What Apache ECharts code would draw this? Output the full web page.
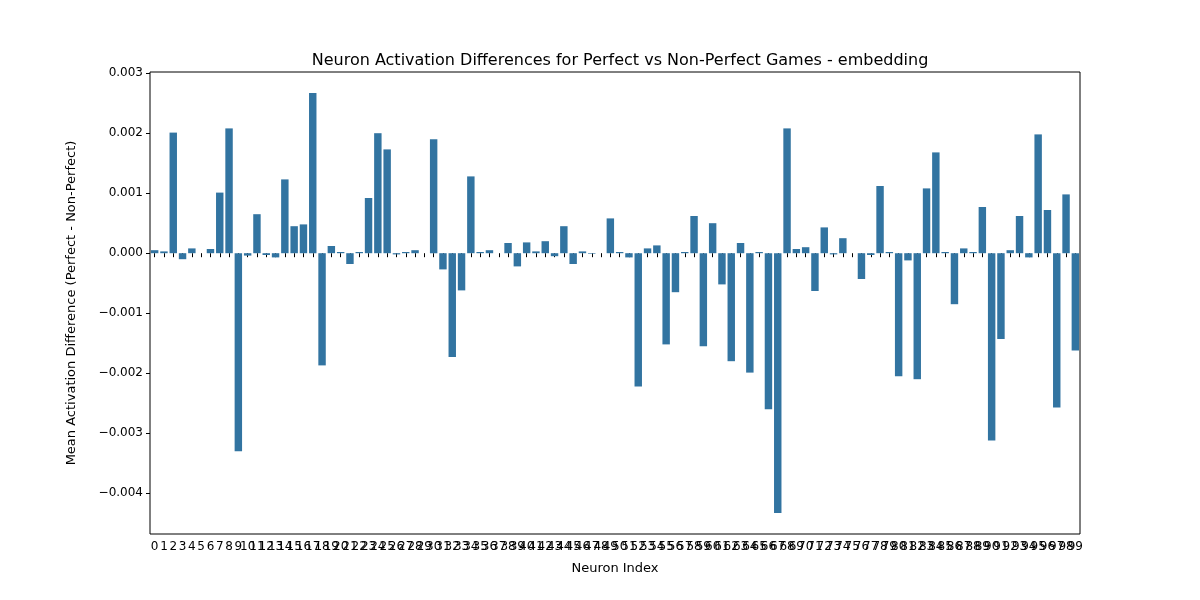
<!DOCTYPE html>
<html>
<head>
<meta charset="utf-8">
<script src="https://cdn.jsdelivr.net/npm/echarts@6/dist/echarts.min.js"></script>
<style>html,body{margin:0;padding:0;background:#fff}#chart{width:1200px;height:600px}</style>
</head>
<body>
<div id="chart"></div>
<script>
// neuron indices 0..99
const neurons = [];
for (let i = 0; i < 100; i++) neurons.push(String(i));

// mean activation difference (perfect - non-perfect)
const diffs = [
  0.00005, 0.00003, 0.00201, -0.0001, 0.00008, 0.0, 0.00007, 0.00101, 0.00208, -0.0033,
  -0.00004, 0.00065, -0.00003, -0.00007, 0.00123, 0.00045, 0.00048, 0.00267, -0.00187, 0.00012,
  0.00002, -0.00018, 0.00002, 0.00092, 0.002, 0.00173, -0.00002, 0.00002, 0.00005, 0.0,
  0.0019, -0.00027, -0.00173, -0.00062, 0.00128, 0.00002, 0.00005, 0.0, 0.00017, -0.00022,
  0.00018, 0.00003, 0.0002, -0.00005, 0.00045, -0.00018, 0.00003, -0.00001, 0.0, 0.00058,
  0.00002, -0.00007, -0.00222, 0.00008, 0.00013, -0.00152, -0.00065, 0.00002, 0.00062, -0.00155,
  0.0005, -0.00052, -0.0018, 0.00017, -0.00199, 0.00002, -0.0026, -0.00433, 0.00208, 0.00007,
  0.0001, -0.00063, 0.00043, -0.00002, 0.00025, 0.0, -0.00043, -0.00003, 0.00112, 0.00002,
  -0.00205, -0.00012, -0.0021, 0.00108, 0.00168, 0.00002, -0.00085, 0.00008, 0.00002, 0.00077,
  -0.00312, -0.00143, 0.00005, 0.00062, -0.00007, 0.00198, 0.00072, -0.00257, 0.00098, -0.00162
];

const yTicks = [-0.004, -0.003, -0.002, -0.001, 0, 0.001, 0.002, 0.003];

const chart = echarts.init(document.getElementById('chart'));
const font = 'DejaVu Sans';

chart.setOption({
  animation: false,
  title: {
    text: 'Neuron Activation Differences for Perfect vs Non-Perfect Games - embedding',
    left: 615, top: 48, textAlign: 'center',
    textStyle: { fontFamily: font, fontSize: 16, fontWeight: 'normal', color: '#000' }
  },
  grid: {
    left: 150, right: 120, top: 72, bottom: 66,
    show: true, borderColor: '#000', borderWidth: 1
  },
  xAxis: {
    type: 'category',
    data: neurons,
    name: 'Neuron Index',
    nameLocation: 'middle',
    nameGap: 28,
    nameTextStyle: { fontFamily: font, fontSize: 13, color: '#000' },
    axisLine: { show: false },
    axisTick: { show: true, alignWithLabel: true, interval: 0, length: 4, lineStyle: { color: '#000' } },
    axisLabel: { interval: 0, fontFamily: font, fontSize: 12, color: '#000', margin: 7 }
  },
  yAxis: {
    type: 'value',
    min: -0.00468,
    max: 0.00302,
    name: 'Mean Activation Difference (Perfect - Non-Perfect)',
    nameLocation: 'middle',
    nameGap: 72,
    nameTextStyle: { fontFamily: font, fontSize: 13, color: '#000' },
    splitLine: { show: false },
    axisLine: { show: false },
    axisTick: { show: true, length: 4, customValues: yTicks, lineStyle: { color: '#000' } },
    axisLabel: {
      customValues: yTicks,
      fontFamily: font, fontSize: 12, color: '#000', margin: 7,
      formatter: v => (v < 0 ? '\u2212' : '') + Math.abs(v).toFixed(3)
    }
  },
  series: [{
    type: 'bar',
    data: diffs,
    barCategoryGap: '20%',
    itemStyle: { color: '#3274a1' }
  }]
});
</script>
</body>
</html>
